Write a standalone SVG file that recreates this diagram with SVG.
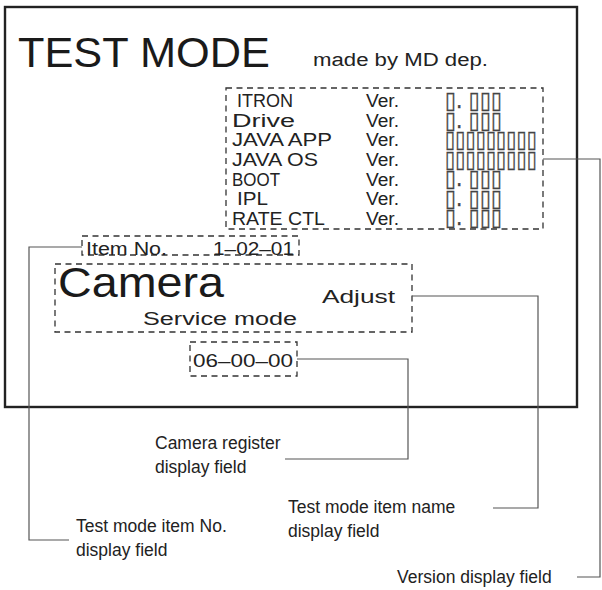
<svg xmlns="http://www.w3.org/2000/svg" width="602" height="590" viewBox="0 0 602 590">
<style>
.frame{fill:none;stroke:#222;stroke-width:2.4}
.dbox{fill:none;stroke:#333;stroke-width:1.3;stroke-dasharray:6 4.5}
.conn{fill:none;stroke:#555;stroke-width:1.2}
.t{font-family:"Liberation Sans",Arial,sans-serif;fill:#1a1a1a}
.c{font-family:"Liberation Sans",Arial,sans-serif;fill:#222;font-size:18px}
.box{font-family:"DejaVu Sans",sans-serif;fill:#444;stroke:#444;stroke-width:0.35;font-size:23px}
.lbl{font-family:"Liberation Sans",Arial,sans-serif;fill:#222;font-size:17.5px}
</style>
<rect width="602" height="590" fill="#fff"/>
<g id="screen">
<rect class="frame" x="5" y="7" width="572" height="400"/>
<text class="t" x="18" y="67" font-size="42" textLength="252" lengthAdjust="spacingAndGlyphs">TEST MODE</text>
<text class="c" x="313" y="66" font-size="17" textLength="175" lengthAdjust="spacingAndGlyphs">made  by  MD dep.</text>
</g>
<g id="version-field">
<rect class="dbox" x="226" y="88" width="317" height="141"/>
<text class="c" x="237" y="107" textLength="56" lengthAdjust="spacingAndGlyphs">ITRON</text>
<text class="c" x="232" y="127" textLength="63" lengthAdjust="spacingAndGlyphs">Drive</text>
<text class="c" x="232" y="146" textLength="100" lengthAdjust="spacingAndGlyphs">JAVA APP</text>
<text class="c" x="232" y="166" textLength="86" lengthAdjust="spacingAndGlyphs">JAVA OS</text>
<text class="c" x="232" y="186" textLength="48" lengthAdjust="spacingAndGlyphs">BOOT</text>
<text class="c" x="237" y="205" textLength="31" lengthAdjust="spacingAndGlyphs">IPL</text>
<text class="c" x="232" y="225" textLength="93" lengthAdjust="spacingAndGlyphs">RATE CTL</text>
<text class="c" x="366" y="107" textLength="33" lengthAdjust="spacingAndGlyphs">Ver.</text>
<text class="c" x="366" y="127" textLength="33" lengthAdjust="spacingAndGlyphs">Ver.</text>
<text class="c" x="366" y="146" textLength="33" lengthAdjust="spacingAndGlyphs">Ver.</text>
<text class="c" x="366" y="166" textLength="33" lengthAdjust="spacingAndGlyphs">Ver.</text>
<text class="c" x="366" y="186" textLength="33" lengthAdjust="spacingAndGlyphs">Ver.</text>
<text class="c" x="366" y="205" textLength="33" lengthAdjust="spacingAndGlyphs">Ver.</text>
<text class="c" x="366" y="225" textLength="33" lengthAdjust="spacingAndGlyphs">Ver.</text>
<text class="box" x="445" y="108" textLength="57" lengthAdjust="spacingAndGlyphs">▯. ▯▯▯</text>
<text class="box" x="445" y="127.5" textLength="57" lengthAdjust="spacingAndGlyphs">▯. ▯▯▯</text>
<text class="box" x="445" y="147" textLength="92" lengthAdjust="spacingAndGlyphs">▯▯▯▯▯▯▯▯▯</text>
<text class="box" x="445" y="166.5" textLength="92" lengthAdjust="spacingAndGlyphs">▯▯▯▯▯▯▯▯▯</text>
<text class="box" x="445" y="186" textLength="57" lengthAdjust="spacingAndGlyphs">▯. ▯▯▯</text>
<text class="box" x="445" y="205.5" textLength="57" lengthAdjust="spacingAndGlyphs">▯. ▯▯▯</text>
<text class="box" x="445" y="225" textLength="57" lengthAdjust="spacingAndGlyphs">▯. ▯▯▯</text>
</g>
<g id="item-no-field">
<rect class="dbox" x="82" y="236" width="217" height="19"/>
<text class="c" x="86" y="255" textLength="81" lengthAdjust="spacingAndGlyphs">Item No.</text>
<text class="c" x="213" y="255" textLength="81" lengthAdjust="spacingAndGlyphs">1–02–01</text>
</g>
<g id="item-name-field">
<rect class="dbox" x="55" y="264" width="357" height="68"/>
<text class="t" x="58" y="297" font-size="42" textLength="166" lengthAdjust="spacingAndGlyphs">Camera</text>
<text class="c" x="322" y="303" font-size="22" textLength="73" lengthAdjust="spacingAndGlyphs">Adjust</text>
<text class="c" x="143" y="325" font-size="22" textLength="154" lengthAdjust="spacingAndGlyphs">Service mode</text>
</g>
<g id="register-field">
<rect class="dbox" x="190" y="342" width="107" height="34"/>
<text class="c" x="193" y="367" font-size="20" textLength="100" lengthAdjust="spacingAndGlyphs">06–00–00</text>
</g>
<g id="labels">
<text class="lbl" x="155" y="449">Camera register</text>
<text class="lbl" x="155" y="473">display field</text>
<text class="lbl" x="288" y="513">Test mode item name</text>
<text class="lbl" x="288" y="537">display field</text>
<text class="lbl" x="76" y="532">Test mode item No.</text>
<text class="lbl" x="76" y="556">display field</text>
<text class="lbl" x="397" y="583">Version display field</text>
</g>
<g id="connectors">
<polyline class="conn" points="297,359 408,359 408,459 285,459"/>
<polyline class="conn" points="412,296 538,296 538,508 493,508"/>
<polyline class="conn" points="82,247 29,247 29,540 69,540"/>
<polyline class="conn" points="543,159 600,159 600,577 577,577"/>
</g>
</svg>
